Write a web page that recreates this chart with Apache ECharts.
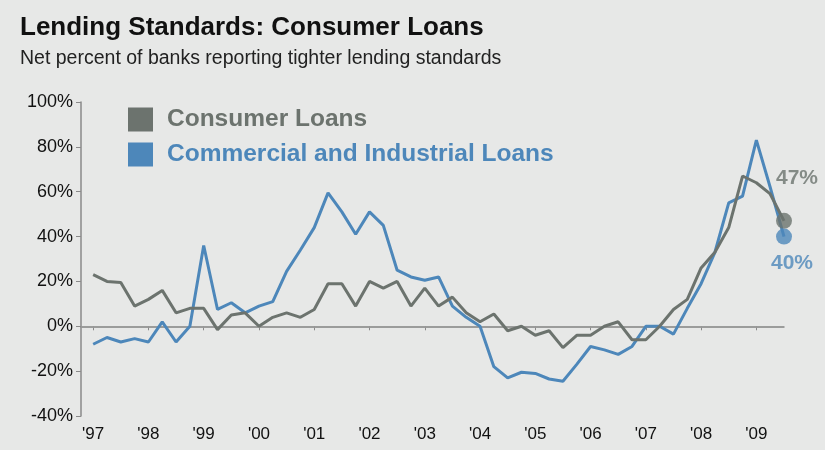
<!DOCTYPE html>
<html>
<head>
<meta charset="utf-8">
<script src="https://cdn.jsdelivr.net/npm/echarts@6/dist/echarts.min.js"></script>
<style>
html,body{margin:0;padding:0;background:#e7e8e7;}
#chart{width:825px;height:450px;}
</style>
</head>
<body>
<div id="chart"></div>
<script>
// Quarterly, 1997 Q1 .. 2009 Q3
const startYear = 1997;
const consumerLoans = [
  23, 20, 19.5, 9,
  12, 16, 6, 8,
  8, -1.5, 5, 6,
  0, 4, 6, 4,
  7.5, 19, 19, 9,
  20, 17, 20, 9,
  17, 9, 13, 6,
  2, 5.5, -2, 0,
  -4, -2, -9.5, -4,
  -4, 0, 2, -6,
  -6, 0, 7.5, 12,
  26, 33, 44, 67,
  64, 59, 47
];
const ciLoans = [
  -8, -5, -7, -5.5,
  -7, 2, -7, 0,
  36, 7.5, 10.5, 6,
  9, 11, 24.5, 34,
  44, 59.5, 51, 41,
  51, 45, 25, 22,
  20.5, 22, 9, 4,
  0, -18, -23, -20.5,
  -21, -23.5, -24.5, -17,
  -9, -10.5, -12.5, -9,
  0, 0, -3.5, 8,
  19, 33, 55, 58,
  83, 62, 40
];
const yearTicks = [1997,1998,1999,2000,2001,2002,2003,2004,2005,2006,2007,2008,2009];
const yearLabels = ["'97","'98","'99","'00","'01","'02","'03","'04","'05","'06","'07","'08","'09"];
const seriesNames = ['Consumer Loans', 'Commercial and Industrial Loans'];

const GRAY = '#6c736e';
const BLUE = '#4d87ba';
const SANS = '"Liberation Sans", Arial, sans-serif';

function toPairs(arr){ return arr.map((v,i)=>[startYear + i*0.25, v]); }
const consPts = toPairs(consumerLoans);
const ciPts = toPairs(ciLoans);

const chart = echarts.init(document.getElementById('chart'), null, {renderer:'canvas'});
chart.setOption({
  backgroundColor: '#e7e8e7',
  animation: false,
  title: {
    left: 20, top: 15, padding: 0,
    text: 'Lending Standards: Consumer Loans',
    subtext: 'Net percent of banks reporting tighter lending standards',
    itemGap: 8,
    textStyle: {fontFamily: SANS, fontSize: 26, fontWeight: 'bold', color: '#111'},
    subtextStyle: {fontFamily: SANS, fontSize: 19.5, color: '#222'}
  },
  legend: {
    orient: 'vertical', left: 128, top: 107, padding: 0,
    itemWidth: 25, itemHeight: 24, itemGap: 10, icon: 'rect',
    data: [
      {name: seriesNames[0], textStyle: {color: GRAY}},
      {name: seriesNames[1], textStyle: {color: BLUE}}
    ],
    textStyle: {fontFamily: SANS, fontSize: 24.5, fontWeight: 'bold', padding: [0,0,0,9]}
  },
  grid: {left: 81, right: 41, top: 102, bottom: 34},
  xAxis: {
    type: 'value', min: 1996.78, max: 2009.5,
    splitLine: {show: false},
    axisLine: {lineStyle: {color: '#8a8a8a', width: 1.5}},
    axisTick: {show: true, customValues: yearTicks, length: 4, lineStyle: {color: '#8a8a8a'}},
    axisLabel: {
      customValues: yearTicks,
      formatter: v => yearLabels[yearTicks.indexOf(Math.round(v))],
      fontFamily: SANS, fontSize: 17, color: '#111', margin: 10
    }
  },
  yAxis: {
    type: 'value', min: -40, max: 100, interval: 20,
    splitLine: {show: false},
    axisLine: {show: true, lineStyle: {color: '#8a8a8a', width: 1.5}},
    axisTick: {show: true, length: 5, lineStyle: {color: '#8a8a8a'}},
    axisLabel: {formatter: '{value}%', fontFamily: SANS, fontSize: 18, color: '#111', margin: 8}
  },
  series: [
    {
      name: seriesNames[0], type: 'line', data: consPts,
      symbol: 'none', lineStyle: {color: GRAY, width: 3}, itemStyle: {color: GRAY},
      z: 3,
      markLine: {
        silent: true, symbol: 'none', label: {show: false},
        lineStyle: {color: '#9a9a9a', width: 1.5, type: 'solid'},
        data: [{yAxis: 0}], z: 1
      }
    },
    {
      name: seriesNames[1], type: 'line', data: ciPts,
      symbol: 'none', lineStyle: {color: BLUE, width: 3}, itemStyle: {color: BLUE},
      z: 2
    },
    {
      type: 'scatter', data: [consPts[consPts.length-1]],
      symbolSize: 16, itemStyle: {color: GRAY}, z: 5,
      label: {show: true, position: 'top', distance: 24, offset: [13, 0],
        formatter: p => Math.round(p.value[1]) + '%',
        fontFamily: SANS, fontSize: 21, fontWeight: 'bold', color: GRAY}
    },
    {
      type: 'scatter', data: [ciPts[ciPts.length-1]],
      symbolSize: 16, itemStyle: {color: BLUE}, z: 5,
      label: {show: true, position: 'bottom', distance: 8, offset: [8, 0],
        formatter: p => Math.round(p.value[1]) + '%',
        fontFamily: SANS, fontSize: 21, fontWeight: 'bold', color: BLUE}
    }
  ]
});
</script>
</body>
</html>
